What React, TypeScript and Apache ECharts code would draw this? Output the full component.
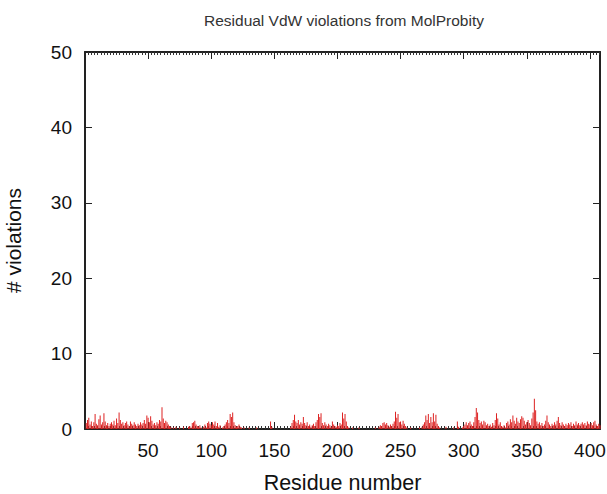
import React, { useEffect, useRef } from "react";
import * as echarts from "echarts";

const titleText = "Residual VdW violations from MolProbity";
const xAxisName = "Residue number";
const yAxisName = "# violations";
const xTicks = [50, 100, 150, 200, 250, 300, 350, 400];
const yTicks = [0, 10, 20, 30, 40, 50];

// violations per residue, residues 1..408
const violations: number[] = [
  0.8, 1.2, 1.5, 0.6, 1.0, 0.4, 0.9, 2.0, 0.7, 0.5, 1.3, 1.8, 0.6, 0.9, 2.1, 1.0, 0.5, 0.8, 0.4, 0.7,
  0.9, 0.6, 1.1, 0.5, 1.4, 0.8, 2.2, 1.2, 0.7, 0.9, 0.5, 0.8, 1.0, 0.6, 0.4, 1.0, 0.7, 0.5, 0.9, 0.6,
  0.4, 0.7, 0.5, 0.9, 0.6, 0.8, 1.2, 0.7, 1.8, 1.5, 0.9, 1.7, 1.1, 0.6, 0.8, 0.5, 0.9, 0.7, 1.2, 1.0,
  2.9, 1.4, 0.8, 1.1, 0.9, 0.6, 0.4, 0.3, 0, 0.2, 0, 0.3, 0, 0, 0.2, 0, 0, 0.3, 0, 0,
  0, 0.3, 0.4, 0.2, 0.8, 0.9, 1.1, 0.6, 0.4, 0.3, 0.5, 0.2, 0, 0.3, 0.6, 0.2, 0.8, 1.0, 0.7, 0.5,
  0.9, 0.6, 1.0, 0.4, 0.8, 0.3, 0.5, 0, 0.2, 0.4, 0.6, 0.9, 1.2, 0.8, 2.0, 1.6, 2.2, 0.9, 0.5, 0.3,
  0.4, 0.6, 0.3, 0.2, 0, 0.2, 0, 0, 0, 0.2, 0, 0, 0, 0, 0, 0.2, 0, 0, 0, 0,
  0, 0, 0, 0, 0, 0, 1.0, 0.3, 0, 0, 0, 0, 0, 0, 0, 0, 0, 0, 0, 0,
  0, 0, 0.3, 0.8, 1.2, 1.9, 1.0, 0.8, 1.2, 0.6, 0.9, 0.7, 1.6, 0.8, 0.5, 0.9, 0.4, 0.6, 0.3, 0.5,
  0.7, 0.4, 0.9, 1.2, 2.0, 1.6, 2.1, 0.8, 0.5, 0.9, 0.6, 0.4, 0.7, 0.5, 0.3, 1.0, 0.6, 0.4, 0.3, 0.5,
  0.4, 0.8, 0.6, 2.2, 1.4, 2.0, 1.0, 0.4, 0.2, 0, 0, 0.2, 0, 0, 0, 0, 0.2, 0, 0, 0,
  0, 0, 0, 0, 0, 0, 0, 0, 0, 0.2, 0, 0, 0.3, 0.5, 0.4, 0.8, 0.9, 0.6, 0.8, 0.5,
  0.3, 0.6, 0.4, 0.7, 1.0, 2.3, 1.5, 2.0, 0.9, 1.0, 0.6, 1.1, 0.7, 0.4, 0.2, 0, 0, 0.2, 0, 0,
  0, 0, 0, 0, 0.2, 0, 0.3, 0.6, 0.9, 1.8, 1.2, 2.0, 0.8, 1.6, 0.9, 2.1, 1.0, 1.9, 0.7, 0.4,
  0.2, 0, 0, 0, 0, 0.3, 0, 0, 0, 0, 0, 0.2, 0, 0, 1.0, 0.3, 0, 0, 0.2, 0.4,
  0.6, 0.9, 0.5, 0.8, 1.0, 0.6, 0.4, 0.9, 1.6, 2.8, 2.2, 1.2, 0.8, 1.0, 0.6, 1.1, 0.9, 0.5, 0.7, 0.4,
  0.6, 0.3, 0.8, 0.5, 1.2, 2.1, 1.4, 0.6, 0.9, 0.4, 0.3, 0.5, 0.2, 0.8, 1.0, 0.6, 1.3, 0.9, 1.8, 1.1,
  0.7, 1.5, 1.0, 0.8, 1.3, 1.7, 1.5, 1.1, 0.6, 0.9, 1.2, 0.8, 0.5, 1.4, 2.2, 4.0, 2.5, 1.0, 0.7, 0.9,
  0.5, 0.8, 0.4, 0.6, 1.1, 1.8, 0.9, 0.6, 0.4, 0.7, 0.5, 0.9, 0.6, 1.1, 1.6, 0.8, 0.5, 0.9, 0.6, 0.4,
  0.7, 0.5, 0.8, 0.6, 0.9, 0.4, 0.7, 0.5, 1.0, 0.6, 0.8, 0.5, 0.7, 0.9, 0.6, 0.8, 0.5, 1.0, 0.7, 0.6,
  0.8, 0.5, 0.9, 1.1, 0.6, 0.4, 0.7, 0.5,
];

const FONT = "Liberation Sans, Arial, Helvetica, sans-serif";

export default function App() {
  const ref = useRef<HTMLDivElement>(null);
  useEffect(() => {
    if (!ref.current) return;
    const chart = echarts.init(ref.current, undefined, { renderer: "svg" });
    const data = violations.map((v, i) => [i + 1, v]);
    const axisLine = { show: true, onZero: false, lineStyle: { color: "#222", width: 2 } };
    chart.setOption({
      animation: false,
      backgroundColor: "#fff",
      textStyle: { fontFamily: FONT },
      title: {
        text: titleText,
        left: 199,
        top: 7,
        textStyle: { fontSize: 15.5, fontWeight: "normal", color: "#333", fontFamily: FONT },
      },
      grid: {
        left: 85,
        right: 7,
        top: 52,
        bottom: 65,
        containLabel: false,
        outerBoundsMode: "none",
      },
      xAxis: [
        {
          type: "value",
          position: "bottom",
          min: 0,
          max: 408,
          interval: 50,
          name: xAxisName,
          nameLocation: "middle",
          nameGap: 43,
          nameTextStyle: { fontSize: 21.5, color: "#111", fontFamily: FONT },
          axisLine,
          axisTick: { inside: true, length: 7, lineStyle: { color: "#222" } },
          minorTick: { show: true, splitNumber: 20, length: 3, lineStyle: { color: "#333" } },
          splitLine: { show: false },
          axisLabel: {
            fontSize: 19,
            color: "#111",
            margin: 12,
            formatter: (v: number) => (xTicks.includes(v) ? String(v) : ""),
          },
        },
        {
          type: "value",
          position: "top",
          min: 0,
          max: 408,
          interval: 50,
          axisLine,
          axisTick: { inside: true, length: 7, lineStyle: { color: "#222" } },
          minorTick: { show: true, splitNumber: 20, length: 3, lineStyle: { color: "#333" } },
          splitLine: { show: false },
          axisLabel: { show: false },
        },
      ],
      yAxis: [
        {
          type: "value",
          position: "left",
          min: 0,
          max: 50,
          interval: 10,
          name: yAxisName,
          nameLocation: "middle",
          nameGap: 61,
          nameRotate: 90,
          nameTextStyle: { fontSize: 21, color: "#111", fontFamily: FONT },
          axisLine,
          axisTick: { show: true, inside: true, length: 7, lineStyle: { color: "#222" } },
          splitLine: { show: false },
          axisLabel: {
            fontSize: 19,
            color: "#111",
            margin: 13,
            formatter: (v: number) => (yTicks.includes(v) ? String(v) : ""),
          },
        },
        {
          type: "value",
          position: "right",
          min: 0,
          max: 50,
          interval: 10,
          axisLine,
          axisTick: { show: true, inside: true, length: 7, lineStyle: { color: "#222" } },
          splitLine: { show: false },
          axisLabel: { show: false },
        },
      ],
      series: [
        {
          type: "bar",
          xAxisIndex: 0,
          yAxisIndex: 0,
          data,
          barWidth: 1,
          itemStyle: { color: "#dd2222" },
          silent: true,
        },
      ],
    });
    return () => chart.dispose();
  }, []);
  return (
    <div
      ref={ref}
      style={{ position: "fixed", left: 0, top: 0, width: 607, height: 494 }}
    />
  );
}
